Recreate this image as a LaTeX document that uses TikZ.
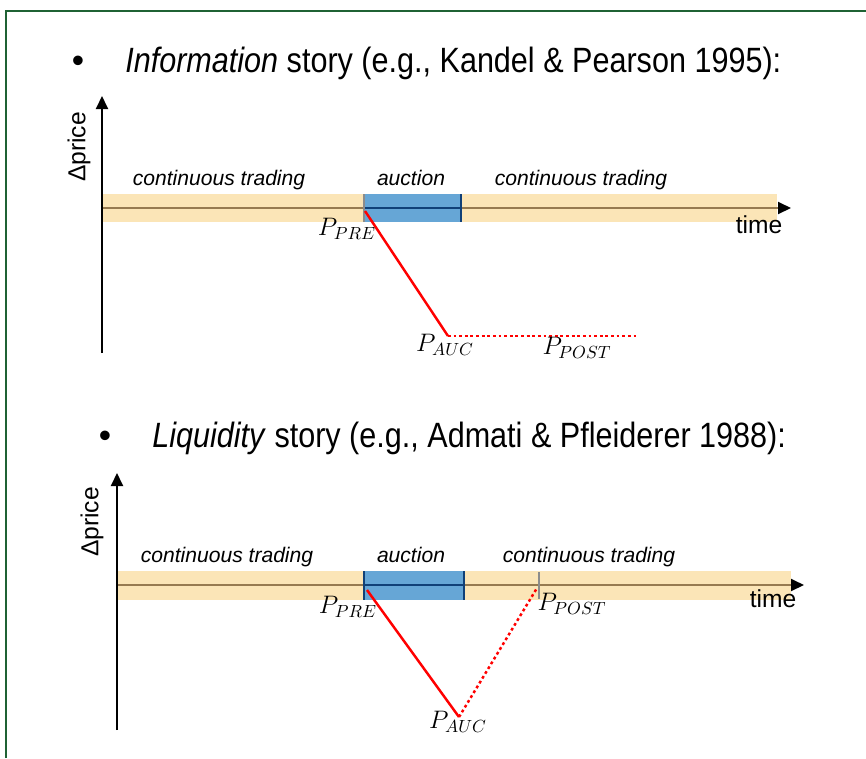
\documentclass[tikz,border=0pt]{standalone}
\usepackage{fontspec}
\setmainfont{Liberation Sans}
\usepackage{xcolor}
\usepackage{tikz}
\usetikzlibrary{arrows.meta,positioning}
\definecolor{framegreen}{RGB}{31,98,52}
\definecolor{tradeband}{RGB}{251,229,183}
\definecolor{tradeline}{RGB}{150,122,80}
\definecolor{auctionfill}{RGB}{102,166,214}
\definecolor{auctionedge}{RGB}{16,64,120}
\definecolor{tickgrey}{RGB}{140,140,140}
\definecolor{pathred}{RGB}{255,0,0}
\tikzset{
 frameline/.style={
 draw=framegreen,
 line width=1.2pt
 },
 headline/.style={
 anchor=base west,
 inner sep=0pt,
 xscale=0.87,
 font=\fontsize{20}{24}\selectfont
 },
 bulletmark/.style={
 anchor=base,
 inner sep=0pt,
 font=\fontsize{20}{24}\selectfont
 },
 phaselabel/.style={
 anchor=base,
 inner sep=0pt,
 font=\fontsize{12}{14}\selectfont\itshape
 },
 axislabel/.style={
 inner sep=0pt,
 font=\fontsize{14}{16}\selectfont
 },
 pricelabel/.style={
 inner sep=0pt,
 font=\fontsize{14}{16}\selectfont
 },
 axisarrow/.style={-{Triangle[length=2.6mm, width=2.4mm]}, line width=1.1pt, draw=black},
 timearrow/.style={-{Triangle[length=2.6mm, width=2.4mm, color=black]}, line width=1.1pt, draw=tradeline},
 auctionline/.style={line width=1.1pt, draw=auctionedge},
 tickline/.style={line width=1.1pt, draw=tickgrey},
 jumpline/.style={line width=1.4pt, draw=pathred},
 reverseline/.style={line width=1.4pt, draw=pathred, dash pattern=on 1.6pt off 1.6pt}
}

\begin{document}
\begin{tikzpicture}[x=0.02cm, y=-0.02cm]
 \useasboundingbox (0,0) rectangle (866,758);
 \draw[frameline] (6,758) -- (6,11) -- (866,11);

 \node[bulletmark] (infobullet) at (78,72) {\textbullet};
 \node[headline] (infohead) at (125,72) {\textit{Information} story (e.g., Kandel \& Pearson 1995):};

 \fill[tradeband] (102,194) rectangle (777,222);
 \fill[auctionfill] (364,194) rectangle (461,222);
 \coordinate (infoorigin) at (102,353);
 \coordinate (infotop) at (102,96);
 \coordinate (infostart) at (102,208);
 \coordinate (infoend) at (791,208);
 \draw[timearrow] (infostart) -- (infoend);
 \draw[auctionline] (364,208) -- (461,208);
 \draw[auctionline] (461,194) -- (461,222);
 \draw[tickline] (364,194) -- (364,222);
 \draw[axisarrow] (infoorigin) -- (infotop);
 \node[axislabel, rotate=90] (infoaxis) at (79,147) {Δprice};
 \node[axislabel, anchor=base] (infotime) at (759,233) {time};
 \node[phaselabel] (infocont) at (219,185) {continuous trading};
 \node[phaselabel] (infoauct) at (411,185) {auction};
 \node[phaselabel] (infocontb) at (581,185) {continuous trading};

 \coordinate (infopre) at (365,211);
 \coordinate (infoauc) at (448,336);
 \coordinate (infopost) at (638,336);
 \draw[jumpline] (infopre) -- (infoauc);
 \draw[reverseline] (infoauc) -- (infopost);
 \node[pricelabel] (infopretxt) at (347,229) {$P_{PRE}$};
 \node[pricelabel] (infoauctxt) at (445,345) {$P_{AUC}$};
 \node[pricelabel] (infoposttxt) at (577,348) {$P_{POST}$};

 \node[bulletmark] (liqbullet) at (105,447) {\textbullet};
 \node[headline] (liqhead) at (152,447) {\textit{Liquidity} story (e.g., Admati \& Pfleiderer 1988):};

 \fill[tradeband] (117,571) rectangle (791,600);
 \fill[auctionfill] (364,571) rectangle (464,600);
 \coordinate (liqorigin) at (117,730);
 \coordinate (liqtop) at (117,473);
 \coordinate (liqstart) at (117,585);
 \coordinate (liqend) at (804,585);
 \draw[timearrow] (liqstart) -- (liqend);
 \draw[auctionline] (364,585) -- (464,585);
 \draw[auctionline] (364,571) -- (364,600);
 \draw[auctionline] (464,571) -- (464,600);
 \draw[tickline] (539,572) -- (539,599);
 \draw[axisarrow] (liqorigin) -- (liqtop);
 \node[axislabel, rotate=90] (liqaxis) at (92,522) {Δprice};
 \node[axislabel, anchor=base] (liqtime) at (773,607) {time};
 \node[phaselabel] (liqcont) at (227,562) {continuous trading};
 \node[phaselabel] (liqauct) at (411,562) {auction};
 \node[phaselabel] (liqcontb) at (589,562) {continuous trading};

 \coordinate (liqpre) at (367,590);
 \coordinate (liqauc) at (459,717);
 \coordinate (liqpost) at (537,588);
 \draw[jumpline] (liqpre) -- (liqauc);
 \draw[reverseline] (liqauc) -- (liqpost);
 \node[pricelabel] (liqpretxt) at (348,607) {$P_{PRE}$};
 \node[pricelabel] (liqauctxt) at (458,722) {$P_{AUC}$};
 \node[pricelabel] (liqposttxt) at (572,604) {$P_{POST}$};
\end{tikzpicture}
\end{document}
